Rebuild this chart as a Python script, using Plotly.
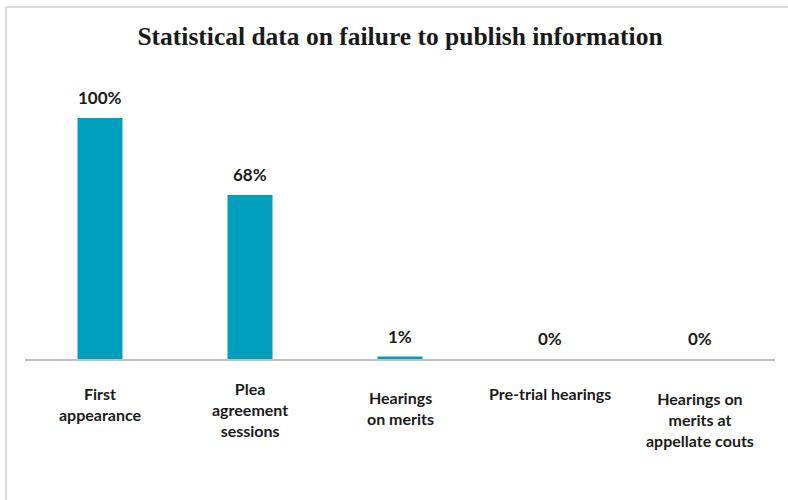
import plotly.graph_objects as go

categories = ["First appearance", "Plea agreement sessions", "Hearings on merits",
              "Pre-trial hearings", "Hearings on merits at appellate couts"]
tick_labels = ["First<br>appearance", "Plea<br>agreement<br>sessions", "Hearings<br>on merits",
               "Pre-trial hearings", "Hearings on<br>merits at<br>appellate couts"]
values = [1.00, 0.68, 0.01, 0.0, 0.0]
value_labels = ["100%", "68%", "1%", "0%", "0%"]
label_shift = [-23, -18, -27, -23, -28]  # vertical offsets of category labels (px)

BAR = "#009FBD"
TXT = "#1a1a1a"

fig = go.Figure()
fig.add_trace(go.Bar(x=categories, y=values, width=0.3, marker=dict(color=BAR, line=dict(width=0)),
                     hoverinfo="skip"))

for c, v, t in zip(categories, values, value_labels):
    fig.add_annotation(x=c, y=v, xref="x", yref="y", text="<b>%s</b>" % t, showarrow=False,
                       yanchor="bottom", yshift=8,
                       font=dict(family="Lato, Open Sans, sans-serif", size=17, color=TXT))

for c, t, s in zip(categories, tick_labels, label_shift):
    fig.add_annotation(x=c, y=0, xref="x", yref="y", text="<b>%s</b>" % t, showarrow=False,
                       yanchor="top", yshift=s, align="center",
                       font=dict(family="Lato, Open Sans, sans-serif", size=16, color=TXT))

L, R, T, B = 25, 13, 82, 141
W, H = 788, 500
pw, ph = W - L - R, H - T - B
def px(x): return (x - L) / pw
def py(y): return (H - B - y) / ph

fig.add_shape(type="line", xref="paper", yref="paper", x0=px(6), x1=px(788), y0=py(7), y1=py(7),
              line=dict(color="#D9D9D9", width=2))
fig.add_shape(type="line", xref="paper", yref="paper", x0=px(6), x1=px(6), y0=py(7), y1=py(500),
              line=dict(color="#D9D9D9", width=2))

fig.update_layout(
    width=W, height=H,
    margin=dict(l=L, r=R, t=T, b=B),
    paper_bgcolor="white", plot_bgcolor="white",
    showlegend=False,
    title=dict(text="<b>Statistical data on failure to publish information</b>",
               x=0.5, xref="paper", xanchor="center", y=1 - 36 / H, yanchor="middle",
               font=dict(family="Liberation Serif, serif", size=25.5, color=TXT)),
    xaxis=dict(range=[-0.5, 4.5], showticklabels=False, ticks="", showgrid=False,
               showline=True, linecolor="#BFBFBF", linewidth=2, zeroline=False),
    yaxis=dict(range=[0, 1.149], visible=False, showgrid=False, zeroline=False),
)

fig.write_html("out.html", config={"displayModeBar": False},
               post_script="document.body.style.margin='0';document.body.style.overflow='hidden';")
